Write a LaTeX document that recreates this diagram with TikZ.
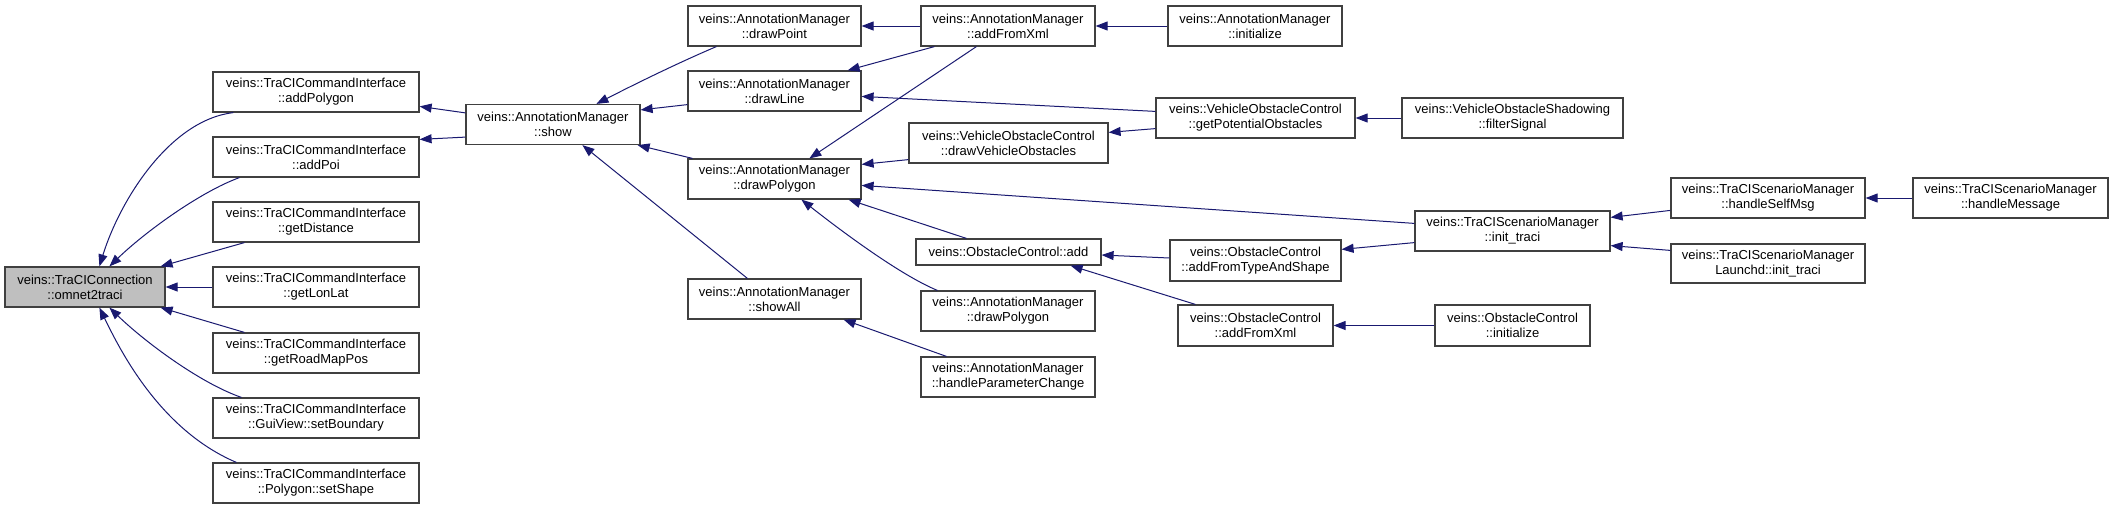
\documentclass[tikz,border=0pt]{standalone}
\usepackage{fontspec}
\setmainfont{Liberation Sans}
\usepackage{tikz}
\usetikzlibrary{arrows.meta}
\definecolor{edgeblue}{HTML}{191970}
\definecolor{boxline}{HTML}{404040}
\definecolor{rootgray}{HTML}{BFBFBF}
\tikzset{
  fn/.style={draw=boxline, line width=1.2pt, fill=white, align=center, inner sep=0pt, font=\fontsize{13}{15}\selectfont, minimum height=40pt},
  rootfn/.style={fn, fill=rootgray},
  call/.style={draw=edgeblue, line width=1pt, -{Triangle[length=12pt, width=9pt]}},
}
\begin{document}
\begin{tikzpicture}[x=1pt, y=1pt]
  \useasboundingbox (0,0) rectangle (2113,-509);

  % root
  \node[rootfn, minimum width=160pt] (conn) at (85,-287) {veins::TraCIConnection\\::omnet2traci};

  % TraCICommandInterface callers
  \node[fn, minimum width=206pt] (addPolygon) at (316,-92) {veins::TraCICommandInterface\\::addPolygon};
  \node[fn, minimum width=206pt] (addPoi) at (316,-157) {veins::TraCICommandInterface\\::addPoi};
  \node[fn, minimum width=206pt] (getDistance) at (316,-222) {veins::TraCICommandInterface\\::getDistance};
  \node[fn, minimum width=206pt] (getLonLat) at (316,-287) {veins::TraCICommandInterface\\::getLonLat};
  \node[fn, minimum width=206pt] (getRoadMapPos) at (316,-353) {veins::TraCICommandInterface\\::getRoadMapPos};
  \node[fn, minimum width=206pt] (setBoundary) at (316,-418) {veins::TraCICommandInterface\\::GuiView::setBoundary};
  \node[fn, minimum width=206pt] (setShape) at (316,-483) {veins::TraCICommandInterface\\::Polygon::setShape};

  % AnnotationManager
  \node[fn, minimum width=174pt] (show) at (553,-124.5) {veins::AnnotationManager\\::show};
  \node[fn, minimum width=173pt] (drawPoint) at (774.5,-26) {veins::AnnotationManager\\::drawPoint};
  \node[fn, minimum width=173pt] (drawLine) at (774.5,-91) {veins::AnnotationManager\\::drawLine};
  \node[fn, minimum width=173pt] (drawPolygon) at (774.5,-179) {veins::AnnotationManager\\::drawPolygon};
  \node[fn, minimum width=173pt] (showAll) at (774.5,-299) {veins::AnnotationManager\\::showAll};

  % fourth column
  \node[fn, minimum width=174pt] (addFromXml) at (1008,-26) {veins::AnnotationManager\\::addFromXml};
  \node[fn, minimum width=199pt] (drawVehObst) at (1008.5,-143) {veins::VehicleObstacleControl\\::drawVehicleObstacles};
  \node[fn, minimum width=185pt, minimum height=26pt] (obstAdd) at (1008.5,-252) {veins::ObstacleControl::add};
  \node[fn, minimum width=174pt] (drawPolygonB) at (1008,-311) {veins::AnnotationManager\\::drawPolygon};
  \node[fn, minimum width=174pt] (handleParam) at (1008,-377) {veins::AnnotationManager\\::handleParameterChange};

  % fifth column
  \node[fn, minimum width=174pt] (amInit) at (1255,-26) {veins::AnnotationManager\\::initialize};
  \node[fn, minimum width=199pt] (getPotObst) at (1255.5,-118) {veins::VehicleObstacleControl\\::getPotentialObstacles};
  \node[fn, minimum width=171pt, minimum height=41pt] (addFromTypeShape) at (1255.5,-260.5) {veins::ObstacleControl\\::addFromTypeAndShape};
  \node[fn, minimum width=155pt, minimum height=41pt] (ocAddFromXml) at (1255.5,-325.5) {veins::ObstacleControl\\::addFromXml};

  % sixth column
  \node[fn, minimum width=221pt] (filterSignal) at (1512.5,-118) {veins::VehicleObstacleShadowing\\::filterSignal};
  \node[fn, minimum width=195pt] (initTraci) at (1512.5,-231) {veins::TraCIScenarioManager\\::init\_traci};
  \node[fn, minimum width=155pt, minimum height=41pt] (ocInit) at (1512.5,-325.5) {veins::ObstacleControl\\::initialize};

  % scenario managers
  \node[fn, minimum width=194pt] (handleSelfMsg) at (1768,-198) {veins::TraCIScenarioManager\\::handleSelfMsg};
  \node[fn, minimum width=194pt, minimum height=39pt] (launchdInit) at (1768,-263.5) {veins::TraCIScenarioManager\\Launchd::init\_traci};
  \node[fn, minimum width=195pt] (handleMessage) at (2010.5,-198) {veins::TraCIScenarioManager\\::handleMessage};

  % calls into omnet2traci
  \draw[call] ([xshift=21pt]addPolygon.south west) .. controls (170,-120) and (120,-200) .. ([xshift=95pt]conn.north west);
  \draw[call] ([xshift=27pt]addPoi.south west) .. controls (200,-192) and (145,-232) .. ([xshift=105pt]conn.north west);
  \draw[call] ([xshift=32pt]getDistance.south west) -- ([xshift=-5pt]conn.north east);
  \draw[call] (getLonLat.west) -- (conn.east);
  \draw[call] ([xshift=32pt]getRoadMapPos.north west) -- ([xshift=-5pt]conn.south east);
  \draw[call] ([xshift=29pt]setBoundary.north west) .. controls (200,-383) and (145,-342) .. ([xshift=105pt]conn.south west);
  \draw[call] ([xshift=24pt]setShape.north west) .. controls (160,-430) and (120,-350) .. ([xshift=95pt]conn.south west);

  % show
  \draw[call] ([yshift=-9pt]show.north west) -- ([yshift=-35pt]addPolygon.north east);
  \draw[call] ([yshift=8pt]show.south west) -- ([yshift=-3pt]addPoi.north east);
  \draw[call] ([xshift=29pt]drawPoint.south west) .. controls (680,-62) and (635,-84) .. ([xshift=131pt]show.north west);
  \draw[call] ([yshift=7pt]drawLine.south west) -- ([yshift=-6pt]show.north east);
  \draw[call] ([xshift=5pt]drawPolygon.north west) -- ([xshift=-3pt]show.south east);
  \draw[call] ([xshift=60pt]showAll.north west) -- ([xshift=117pt]show.south west);

  % draw functions
  \draw[call] (addFromXml.west) -- (drawPoint.east);
  \draw[call] ([xshift=14pt]addFromXml.south west) -- ([xshift=-14pt]drawLine.north east);
  \draw[call] ([yshift=-14pt]getPotObst.north west) -- ([yshift=-26pt]drawLine.north east);
  \draw[call] ([xshift=56pt]addFromXml.south west) -- ([xshift=122pt]drawPolygon.north west);
  \draw[call] ([yshift=4pt]drawVehObst.south west) -- ([yshift=-6pt]drawPolygon.north east);
  \draw[call] ([yshift=-13pt]initTraci.north west) -- ([yshift=-27pt]drawPolygon.north east);
  \draw[call] ([xshift=51pt]obstAdd.north west) -- ([xshift=-13pt]drawPolygon.south east);
  \draw[call] ([xshift=17pt]drawPolygonB.north west) .. controls (900,-275) and (840,-230) .. ([xshift=114pt]drawPolygon.south west);
  \draw[call] ([xshift=26pt]handleParam.north west) -- ([xshift=-18pt]showAll.south east);

  % right part
  \draw[call] (amInit.west) -- (addFromXml.east);
  \draw[call] ([yshift=10pt]getPotObst.south west) -- ([yshift=-10pt]drawVehObst.north east);
  \draw[call] (filterSignal.west) -- (getPotObst.east);
  \draw[call] ([yshift=2.5pt]addFromTypeShape.west) -- ([yshift=-3pt]obstAdd.east);
  \draw[call] ([xshift=18pt]ocAddFromXml.north west) -- ([xshift=-31pt]obstAdd.south east);
  \draw[call] ([yshift=9pt]initTraci.south west) -- ([yshift=-10pt]addFromTypeShape.north east);
  \draw[call] (ocInit.west) -- (ocAddFromXml.east);
  \draw[call] ([yshift=-33pt]handleSelfMsg.north west) -- ([yshift=-7pt]initTraci.north east);
  \draw[call] ([yshift=-7pt]launchdInit.north west) -- ([yshift=6pt]initTraci.south east);
  \draw[call] (handleMessage.west) -- (handleSelfMsg.east);
\end{tikzpicture}
\end{document}
